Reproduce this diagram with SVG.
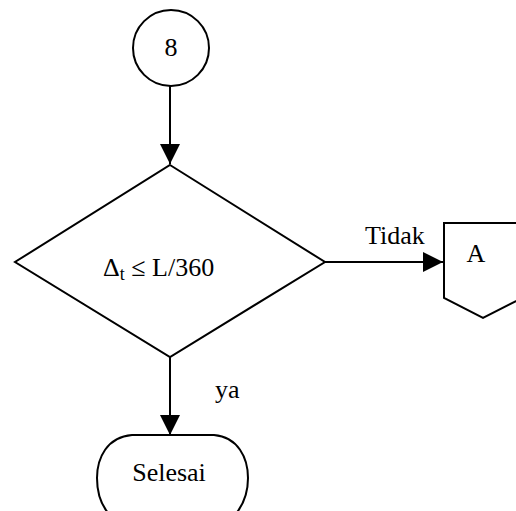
<svg xmlns="http://www.w3.org/2000/svg" width="516" height="511" viewBox="0 0 516 511">
  <defs>
    <marker id="arrow" viewBox="0 0 20 20" refX="20" refY="10" markerWidth="20" markerHeight="20" markerUnits="userSpaceOnUse" orient="auto">
      <path d="M0,0 L20,10 L0,20 Z" fill="#000"/>
    </marker>
  </defs>
  <style>
    .shape { fill: #fff; stroke: #000; stroke-width: 2; }
    .edge { fill: none; stroke: #000; stroke-width: 2; marker-end: url(#arrow); }
    text { font-family: "Liberation Serif", "Times New Roman", serif; font-size: 26px; fill: #000; }
    .mid { text-anchor: middle; }
  </style>
  <rect width="516" height="511" fill="#fff"/>

  <g id="connectors">
    <path class="edge" d="M170,86 V164"/>
    <path class="edge" d="M325,262 H443"/>
    <path class="edge" d="M170,357 V435"/>
    <text x="365" y="244">Tidak</text>
    <text x="215" y="398">ya</text>
  </g>

  <g id="node-8">
    <circle class="shape" cx="171" cy="48" r="38"/>
    <text class="mid" x="171" y="56">8</text>
  </g>

  <g id="node-check">
    <polygon class="shape" points="170,165 325,262 170,357 15,262"/>
    <text x="103" y="276">Δ<tspan font-size="18" dy="4">t</tspan><tspan dy="-4"> ≤ L/360</tspan></text>
  </g>

  <g id="node-A">
    <polygon class="shape" points="444,223 522,223 522,298 483,318 444,298"/>
    <text class="mid" x="476" y="262" font-size="30">A</text>
  </g>

  <g id="node-selesai">
    <path class="shape" d="M132,435 H214 C238,437 248,458 248,478 C248,498 240,510 232,518 H113 C104,510 97,498 97,478 C97,458 107,437 132,435 Z"/>
    <text class="mid" x="169" y="481">Selesai</text>
  </g>
</svg>
